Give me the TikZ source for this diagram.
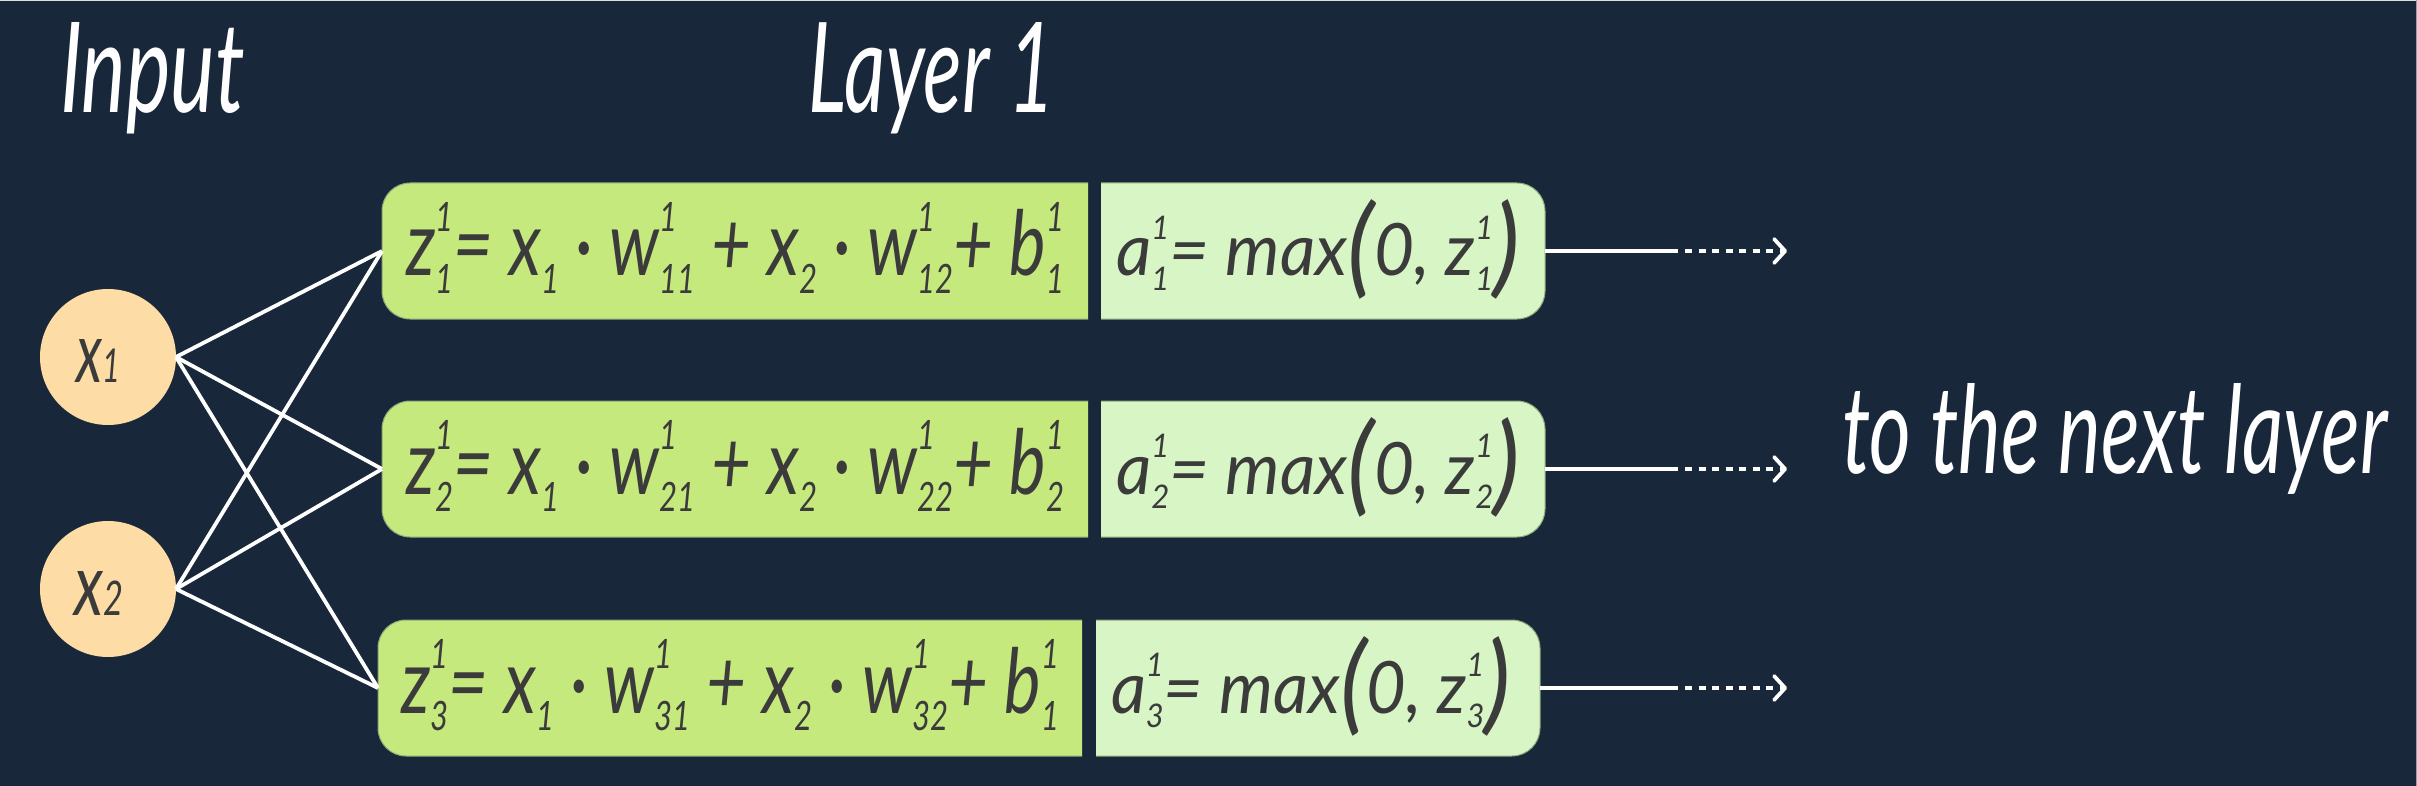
\documentclass[tikz,border=0pt]{standalone}
\usepackage{fontspec}
\usepackage{graphicx}
\newfontfamily\hand{Lato}
\usetikzlibrary{arrows.meta,calc}
\definecolor{bg}{HTML}{18273A}
\definecolor{peach}{HTML}{FDDCA6}
\definecolor{zgreen}{HTML}{C6E97E}
\definecolor{agreen}{HTML}{D8F5C5}
\definecolor{ink}{HTML}{3B3B3B}
\definecolor{edge}{HTML}{8FA67A}
\newcommand\scr{\fontsize{9}{10}\selectfont}
\newcommand\ssb[2]{\rlap{\raisebox{0.5em}{\scr #1}}\raisebox{-0.2em}{\scr #2}}
\newcommand\bigp[1]{\raisebox{-2.2pt}{\fontsize{30}{30}\selectfont #1}}
\newcommand\fit[3]{\resizebox{#1pt}{#2pt}{#3}}
\tikzset{
  title/.style={inner sep=0pt, outer sep=0pt, anchor=base west, text=white, font=\hand\itshape\fontsize{20}{24}\selectfont},
  eq/.style={inner sep=0pt, outer sep=0pt, anchor=base west, text=ink, font=\hand\itshape\fontsize{20}{24}\selectfont},
  neuron/.style={circle, fill=peach, minimum size=136pt, inner sep=0pt, outer sep=0pt},
  boxarea/.style={rectangle, minimum height=136pt, inner sep=0pt, outer sep=0pt},
  zfill/.style={fill=zgreen, draw=edge, line width=1pt, rounded corners=28pt},
  afill/.style={fill=agreen, draw=edge, line width=1pt, rounded corners=28pt},
  link/.style={white, line width=3.8pt},
  dots/.style={white, line width=3.8pt, dash pattern=on 7pt off 6.5pt, -{Straight Barb[length=11pt,width=24pt,round]}}
}
\begin{document}
\begin{tikzpicture}[x=1pt,y=-1pt]
\useasboundingbox (0,0) rectangle (2417,786);
\fill[bg] (0,0) rectangle (2417,786);
\draw[line width=2pt, color=white!85!bg] (0,0) -- (2417,0);
\draw[line width=1.5pt, color=white!55!bg] (2417,0) -- (2417,786);

% titles
\node[title] (tin) at (60,113) {\fit{185}{90}{Input}};
\node[title] (tl1) at (808,113) {\fit{247}{90}{Layer 1}};
\node[title] (tnext) at (1842,473) {\fit{545}{90}{to the next layer}};

% input neurons
\node[neuron] (x1) at (108,357) {};
\node[neuron] (x2) at (108,589) {};
\node[eq] (lx1) at (76,382) {\fit{44}{43}{x{\fontsize{11}{12}\selectfont 1}}};
\node[eq] (lx2) at (74,615) {\fit{49}{44}{x{\fontsize{11}{12}\selectfont 2}}};

% box areas
\node[boxarea, minimum width=706pt] (z1) at (735,251) {};
\node[boxarea, minimum width=444pt] (a1) at (1323,251) {};
\node[boxarea, minimum width=706pt] (z2) at (735,469) {};
\node[boxarea, minimum width=444pt] (a2) at (1323,469) {};
\node[boxarea, minimum width=704pt] (z3) at (730,688) {};
\node[boxarea, minimum width=444pt] (a3) at (1318,688) {};

\foreach \n in {z1,z2,z3}{
  \path[zfill] (\n.north east) -- (\n.north west) -- (\n.south west) -- (\n.south east);
}
\foreach \n in {a1,a2,a3}{
  \path[afill] (\n.north west) -- (\n.north east) -- (\n.south east) -- (\n.south west);
}

% equations
\node[eq] (ez1) at (406,276) {\fit{658}{74}{z\ssb{1}{1}= x\ssb{}{1} · w\ssb{1}{11} + x\ssb{}{2} · w\ssb{1}{12}+ b\ssb{1}{1}}};
\node[eq] (ea1) at (1116,276) {\fit{404}{76}{a\ssb{1}{1}= max\bigp{(}0, z\ssb{1}{1}\bigp{)}}};
\node[eq] (ez2) at (406,494) {\fit{658}{74}{z\ssb{1}{2}= x\ssb{}{1} · w\ssb{1}{21} + x\ssb{}{2} · w\ssb{1}{22}+ b\ssb{1}{2}}};
\node[eq] (ea2) at (1116,494) {\fit{404}{76}{a\ssb{1}{2}= max\bigp{(}0, z\ssb{1}{2}\bigp{)}}};
\node[eq] (ez3) at (401,713) {\fit{658}{74}{z\ssb{1}{3}= x\ssb{}{1} · w\ssb{1}{31} + x\ssb{}{2} · w\ssb{1}{32}+ b\ssb{1}{1}}};
\node[eq] (ea3) at (1111,713) {\fit{400}{76}{a\ssb{1}{3}= max\bigp{(}0, z\ssb{1}{3}\bigp{)}}};

% connections
\foreach \i in {x1,x2}{
  \foreach \j in {z1,z2,z3}{
    \draw[link] (\i.east) -- (\j.west);
  }
}

% outputs
\coordinate (s1) at (1678,251); \coordinate (d1) at (1685,251); \coordinate (t1) at (1787,251);
\coordinate (s2) at (1678,469); \coordinate (d2) at (1685,469); \coordinate (t2) at (1787,469);
\coordinate (s3) at (1678,688); \coordinate (d3) at (1685,688); \coordinate (t3) at (1787,688);
\foreach \k in {1,2,3}{
  \draw[link] (a\k.east) -- (s\k);
  \draw[dots] (d\k) -- (t\k);
}
\end{tikzpicture}
\end{document}
